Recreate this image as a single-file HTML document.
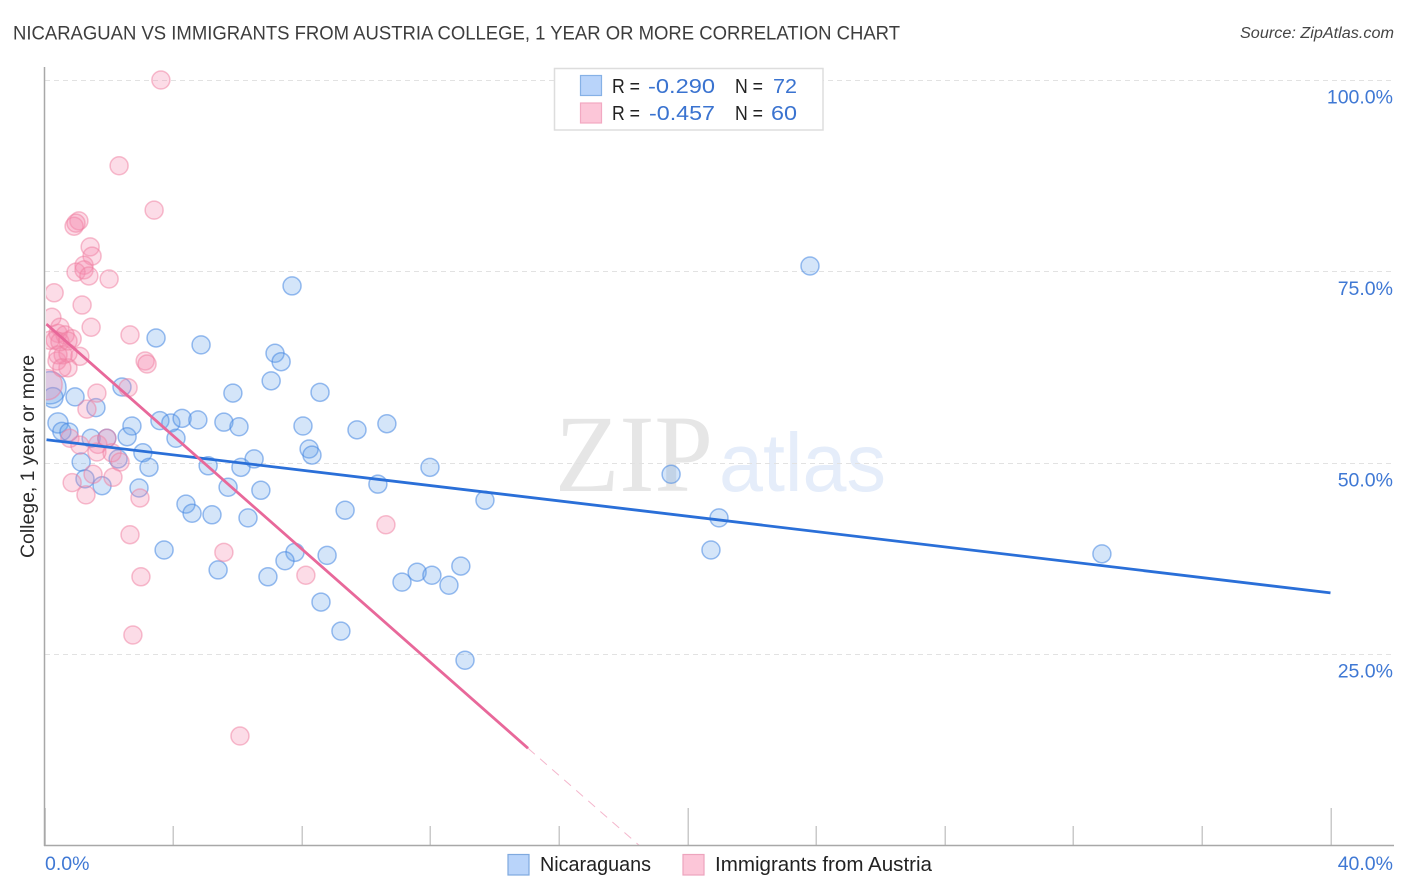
<!DOCTYPE html>
<html lang="en">
<head>
<meta charset="utf-8">
<title>Nicaraguan vs Immigrants from Austria College Correlation Chart</title>
<style>
html,body{margin:0;padding:0;background:#fff;}
svg{display:block;font-family:"Liberation Sans",sans-serif;}
</style>
</head>
<body>
<svg id="chart" xmlns="http://www.w3.org/2000/svg" width="1406" height="892" viewBox="0 0 1406 892">
  <defs><clipPath id="plot-clip"><rect x="46" y="60" width="1350" height="785"/></clipPath></defs>
  <rect x="0" y="0" width="1406" height="892" fill="#ffffff"/>
  <text x="13" y="39.5" font-size="19" fill="#3d3d3d" textLength="887" lengthAdjust="spacingAndGlyphs">NICARAGUAN VS IMMIGRANTS FROM AUSTRIA COLLEGE, 1 YEAR OR MORE CORRELATION CHART</text>
  <text x="1394" y="38" font-size="15.5" font-style="italic" fill="#444444" text-anchor="end" textLength="154" lengthAdjust="spacingAndGlyphs">Source: ZipAtlas.com</text>
  <g>
    <text x="555" y="491" font-family="'Liberation Serif',serif" font-size="110" fill="#e6e6e6" textLength="158" lengthAdjust="spacingAndGlyphs">ZIP</text>
    <text x="719" y="491" font-size="83" fill="#e5edfa" textLength="167" lengthAdjust="spacingAndGlyphs">atlas</text>
  </g>
  <g id="grid"></g>
  <g id="ticks"></g>
  <g id="dots" clip-path="url(#plot-clip)"></g>
  <g id="trends"></g>
  <line x1="44.5" y1="67" x2="44.5" y2="846" stroke="#a8a8a8" stroke-width="1.5"/>
  <line x1="44" y1="845.5" x2="1394" y2="845.5" stroke="#a8a8a8" stroke-width="1.5"/>
  <g id="tick-labels"></g>
  <text transform="translate(34,558) rotate(-90)" font-size="19.5" fill="#2a2a2a" textLength="203" lengthAdjust="spacingAndGlyphs">College, 1 year or more</text>

  <g>
    <rect x="554.5" y="68.5" width="268.5" height="61.5" fill="#ffffff" stroke="#dddddd" stroke-width="1.5"/>
    <rect x="580.5" y="75.5" width="21" height="20" fill="#b9d4fa" stroke="#86b1e6" stroke-width="1.2"/>
    <rect x="580.5" y="103" width="21" height="20" fill="#fcc6d8" stroke="#f2a9c2" stroke-width="1.2"/>
    <text x="612" y="93" font-size="20" fill="#222222" textLength="28" lengthAdjust="spacingAndGlyphs">R =</text>
    <text x="648" y="93" font-size="20" fill="#3a73d0" textLength="67" lengthAdjust="spacingAndGlyphs">-0.290</text>
    <text x="735" y="93" font-size="20" fill="#222222" textLength="28" lengthAdjust="spacingAndGlyphs">N =</text>
    <text x="773" y="93" font-size="20" fill="#3a73d0" textLength="24" lengthAdjust="spacingAndGlyphs">72</text>
    <text x="612" y="120" font-size="20" fill="#222222" textLength="28" lengthAdjust="spacingAndGlyphs">R =</text>
    <text x="649" y="120" font-size="20" fill="#3a73d0" textLength="66" lengthAdjust="spacingAndGlyphs">-0.457</text>
    <text x="735" y="120" font-size="20" fill="#222222" textLength="28" lengthAdjust="spacingAndGlyphs">N =</text>
    <text x="771" y="120" font-size="20" fill="#3a73d0" textLength="26" lengthAdjust="spacingAndGlyphs">60</text>
  </g>

  <g>
    <rect x="508" y="854.5" width="21" height="20.5" fill="#b9d4fa" stroke="#7fa9de" stroke-width="1.2"/>
    <text x="540" y="871" font-size="20" fill="#222222" textLength="111" lengthAdjust="spacingAndGlyphs">Nicaraguans</text>
    <rect x="683" y="854.5" width="21" height="20.5" fill="#fcc6d8" stroke="#eda4bd" stroke-width="1.2"/>
    <text x="715" y="871" font-size="20" fill="#222222" textLength="217" lengthAdjust="spacingAndGlyphs">Immigrants from Austria</text>
  </g>
</svg>
<script>
const yGridValues = [100, 75, 50, 25];
const yTickLabels = ["100.0%", "75.0%", "50.0%", "25.0%"];
const xTickValues = [0, 4, 8, 12, 16, 20, 24, 28, 32, 36, 40];
const xEndValues = [0, 40];
const xEndLabels = ["0.0%", "40.0%"];

const blueX = [0.17,0.26,0.42,3.47,4.87,7.17,7.36,7.05,5.86,8.57,2.41,0.95,1.60,0.54,0.76,2.72,2.57,1.45,1.94,3.59,3.93,4.28,4.77,5.58,6.05,8.04,8.23,8.32,4.09,3.06,2.29,3.25,1.14,5.09,6.11,6.52,1.26,1.79,2.94,5.71,6.73,4.40,4.59,5.21,6.33,9.35,3.72,7.79,7.48,8.79,5.40,6.95,8.60,9.22,11.12,11.59,12.05,12.58,12.95,13.08,10.37,9.72,10.65,7.70,23.81,19.49,20.98,20.73,32.89,13.70,11.99];
const blueY = [59.8,58.5,55.2,66.3,65.4,64.3,63.2,60.7,59.1,59.2,59.9,58.6,57.2,54.1,54.0,54.8,53.4,53.2,53.2,55.5,55.2,55.8,55.6,55.3,54.7,54.8,51.8,51.0,53.2,51.3,50.5,49.4,50.1,49.6,49.4,50.5,47.9,47.0,46.7,46.8,46.4,44.6,43.4,43.2,42.8,43.8,38.6,38.3,37.2,37.9,36.0,35.1,31.8,28.0,34.4,35.7,35.3,34.0,36.5,24.2,47.2,54.3,55.1,73.1,75.7,48.5,42.8,38.6,38.1,45.1,49.4];
const blueWeight = [3.2,1.25,1.25];

const pinkX = [0.08,3.62,2.32,3.41,1.07,0.92,0.98,1.42,1.48,1.23,0.98,1.23,1.38,2.01,0.30,1.17,0.23,1.45,2.66,0.48,0.42,0.17,0.86,0.64,1.10,0.73,0.39,0.58,0.73,0.33,0.48,0.42,0.73,0.54,3.13,3.19,2.60,1.63,1.32,0.79,1.10,1.66,1.63,1.94,2.10,2.35,1.51,2.13,0.86,1.29,2.97,2.66,5.58,3.00,2.75,6.08,8.13,10.62];
const pinkY = [60.2,100,88.8,83.0,81.6,80.9,81.3,78.2,77.0,75.8,74.9,75.2,74.4,74.0,72.2,70.6,69.0,67.7,66.7,67.7,66.9,66.0,66.2,66.7,63.9,62.4,63.3,64.1,64.3,66.0,65.8,64.1,65.9,62.4,63.3,62.9,59.8,59.1,57.0,53.2,52.3,52.4,51.4,53.2,51.3,50.1,48.5,48.1,47.4,45.8,45.4,40.6,38.3,35.1,27.5,14.3,35.3,41.9];
const pinkWeight = [2.8];

const blueTrendX = [0, 40];
const blueTrendY = [53.0, 33.0];
const pinkTrendX = [0, 15.04];
const pinkTrendY = [68.1, 12.7];
const pinkDashX = [15.04, 18.5];
const pinkDashY = [12.7, 0];

const NS = "http://www.w3.org/2000/svg";
function xScale(v) { return 44.5 + v * 32.15; }
function yScale(v) { return 845.5 - v * 7.655; }
function rScale(w) { return 9 * Math.sqrt(w); }
function make(tag, attrs, parent) {
  const el = document.createElementNS(NS, tag);
  for (const k in attrs) el.setAttribute(k, attrs[k]);
  parent.appendChild(el);
  return el;
}

const gridG = document.getElementById("grid");
yGridValues.forEach(function (v) {
  const y = Math.round(yScale(v)) + 0.5;
  const el = make("line", { x1: 45, x2: 1394, y1: y, y2: y, stroke: "#e2e2e2", "stroke-width": 1, "stroke-dasharray": "5 4" }, gridG);
  
  
});

const ticksG = document.getElementById("ticks");
xTickValues.forEach(function (v) {
  const x = Math.round(xScale(v)) + 0.2;
  const top = v % 20 === 0 ? 808 : 826;
  const el = make("line", { x1: x, x2: x, y1: top, y2: 845, stroke: "#bcbcbc", "stroke-width": 1.2 }, ticksG);
  
  
});

const labelsG = document.getElementById("tick-labels");
yGridValues.forEach(function (v, i) {
  const el = make("text", { x: 1393, y: yScale(v) + 23.5, "text-anchor": "end", "font-size": 19.5, fill: "#3f78d4" }, labelsG);
  el.textContent = yTickLabels[i];
  
  
});
xEndValues.forEach(function (v, i) {
  const anchor = i === 0 ? "start" : "end";
  const px = i === 0 ? xScale(v) + 0.5 : 1393;
  const el = make("text", { x: px, y: 870, "text-anchor": anchor, "font-size": 19.5, fill: "#3f78d4" }, labelsG);
  el.textContent = xEndLabels[i];
  
  
});

const dotsG = document.getElementById("dots");
blueX.forEach(function (v, i) {
  const el = make("circle", { cx: xScale(v), cy: yScale(blueY[i]), r: rScale(blueWeight[i] || 1), fill: "rgba(100,160,235,0.28)", stroke: "rgba(70,135,225,0.55)", "stroke-width": 1.5 }, dotsG);
  
  
});
pinkX.forEach(function (v, i) {
  const el = make("circle", { cx: xScale(v), cy: yScale(pinkY[i]), r: rScale(pinkWeight[i] || 1), fill: "rgba(245,140,175,0.3)", stroke: "rgba(240,125,160,0.5)", "stroke-width": 1.5 }, dotsG);
  
  
});

const trendsG = document.getElementById("trends");
const blueLine = make("line", { x1: xScale(blueTrendX[0]) + 2, y1: yScale(blueTrendY[0]), x2: xScale(blueTrendX[1]), y2: yScale(blueTrendY[1]), stroke: "#2a6fd8", "stroke-width": 2.8 }, trendsG);


const pinkLine = make("line", { x1: xScale(pinkTrendX[0]) + 2, y1: yScale(pinkTrendY[0]), x2: xScale(pinkTrendX[1]), y2: yScale(pinkTrendY[1]), stroke: "#e8689a", "stroke-width": 2.8 }, trendsG);


const pinkDash = make("line", { x1: xScale(pinkDashX[0]), y1: yScale(pinkDashY[0]), x2: xScale(pinkDashX[1]), y2: yScale(pinkDashY[1]), stroke: "#f4b6cc", "stroke-width": 1, "stroke-dasharray": "9 7" }, trendsG);


</script>
</body>
</html>
